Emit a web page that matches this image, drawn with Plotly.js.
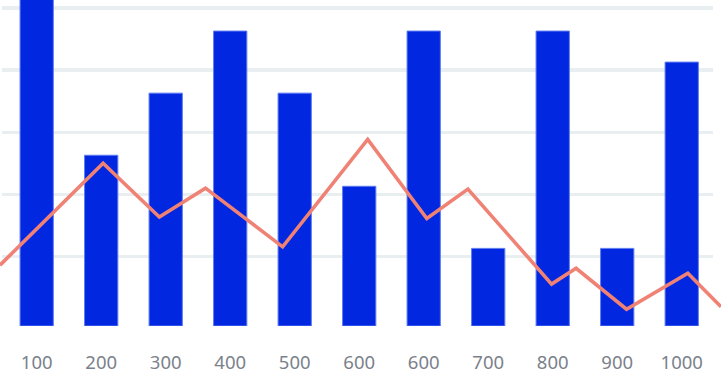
<!DOCTYPE html>
<html>
<head>
<meta charset="utf-8">
<script src="https://cdn.plot.ly/plotly-3.0.1.min.js"></script>
<style>html,body{margin:0;padding:0;background:#fff;}#chart{width:721px;height:374px;}</style>
</head>
<body>
<div id="chart"></div>
<script>
// Bar series (category index positions with their tick labels)
var barLabels = ["100", "200", "300", "400", "500", "600", "600", "700", "800", "900", "1000"];
var barIndex = [0, 1, 2, 3, 4, 5, 6, 7, 8, 9, 10];
var barValues = [108, 55, 75, 95, 75, 45, 95, 25, 95, 25, 85];

// Horizontal gridline levels
var gridLevels = [22.4, 42.4, 62.4, 82.4, 102.4];

// Line series (own horizontal scale 0-100)
var lineX = [0, 14.3, 22.1, 28.5, 39.2, 51.0, 59.2, 64.9, 76.5, 79.9, 86.9, 95.4, 100];
var lineY = [19.6, 52.4, 35.1, 44.4, 25.5, 60.1, 34.6, 44.1, 13.5, 18.6, 5.4, 17.0, 6.2];

var barColor = "#0227e0";
var lineColor = "#ef8274";

var data = [
  {
    type: "bar",
    x: barIndex,
    y: barValues,
    xaxis: "x",
    yaxis: "y",
    width: 0.516,
    marker: {color: barColor, line: {color: "#5f7cf2", width: 1}},
    hoverinfo: "skip"
  },
  {
    type: "scatter",
    mode: "lines",
    x: lineX,
    y: lineY,
    xaxis: "x2",
    yaxis: "y2",
    line: {color: lineColor, width: 3.6},
    hoverinfo: "skip"
  }
];

var layout = {
  width: 721,
  height: 374,
  margin: {l: 0, r: 0, t: 0, b: 48, pad: 0},
  paper_bgcolor: "#ffffff",
  plot_bgcolor: "rgba(0,0,0,0)",
  showlegend: false,
  font: {family: "Noto Sans, Open Sans, sans-serif", size: 18, color: "#7b818b"},
  xaxis: {
    domain: [2/721, 713/721],
    anchor: "y",
    range: [-0.538, 10.485],
    tickmode: "array",
    tickvals: barIndex,
    ticktext: barLabels,
    showgrid: false,
    zeroline: false,
    showline: false,
    ticks: "",
    ticklabelstandoff: 23,
    tickfont: {family: "Noto Sans, Open Sans, sans-serif", size: 18.5, color: "#7b818b"},
    fixedrange: true
  },
  yaxis: {
    domain: [0, 1],
    anchor: "x",
    range: [0, 105],
    tickmode: "array",
    tickvals: gridLevels,
    showgrid: true,
    gridcolor: "#e9eef0",
    gridwidth: 3.5,
    zeroline: false,
    showline: false,
    showticklabels: false,
    ticks: "",
    fixedrange: true
  },
  xaxis2: {
    domain: [0, 1],
    anchor: "y2",
    range: [0, 100],
    visible: false,
    showgrid: false,
    zeroline: false,
    fixedrange: true
  },
  yaxis2: {
    domain: [0, 1],
    anchor: "x2",
    range: [0, 105],
    visible: false,
    showgrid: false,
    zeroline: false,
    fixedrange: true
  }
};

Plotly.newPlot("chart", data, layout, {displayModeBar: false, staticPlot: true});
</script>
</body>
</html>
